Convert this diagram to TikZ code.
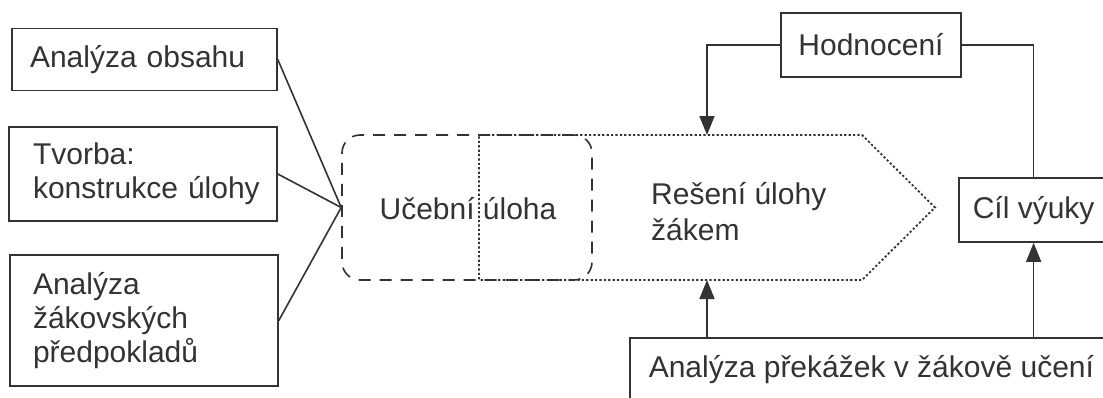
\documentclass[tikz,border=0pt]{standalone}
\usepackage{fontspec}
\setmainfont{Liberation Sans}
\usetikzlibrary{arrows.meta}
\definecolor{ink}{HTML}{333333}
\begin{document}
\begin{tikzpicture}[x=1pt,y=-1pt,
  font=\fontsize{30}{34}\selectfont,
  box/.style={draw=ink, line width=1.6pt, text=ink, inner sep=0pt, align=left},
  lbl/.style={text=ink, inner sep=0pt, align=left},
  ln/.style={draw=ink, line width=1.6pt},
  arr/.style={ln, -{Triangle[length=19pt,width=15pt]}},
  dashbox/.style={draw=ink, line width=1.6pt, dash pattern=on 12pt off 9pt, rounded corners=18pt},
  dotbox/.style={draw=ink, line width=1.8pt, dash pattern=on 2.2pt off 2.2pt}
]
\useasboundingbox[fill=white] (0,0) rectangle (1103,397);
\clip (0,0) rectangle (1103,397);

% left boxes
\node[box, minimum width=265pt, minimum height=62pt, text width=229pt] (b1) at (144.5,59.5) {Analýza obsahu};
\node[box, minimum width=268pt, minimum height=94pt, text width=220pt] (b2) at (143,174) {Tvorba:\\konstrukce~úlohy};
\node[box, minimum width=268pt, minimum height=131pt, text width=222pt] (b3) at (144,320.5) {Analýza\\žákovských\\předpokladů};

% dashed rounded box (ucebni uloha)
\node[dashbox, minimum width=250pt, minimum height=145pt, inner sep=0pt] (ul) at (467,207.5) {};
\node[lbl, anchor=base] (uct) at (468,219) {Učební úloha};

% dotted pentagon (reseni)
\coordinate (p1) at (479,135);
\coordinate (p2) at (862,135);
\coordinate (p3) at (935,207.5);
\coordinate (p4) at (862,280);
\coordinate (p5) at (479,280);
\draw[dotbox] (p1) -- (p2) -- (p3) -- (p4) -- (p5) -- cycle;
\node[lbl, anchor=west, font=\fontsize{30}{36}\selectfont] (res) at (651,212) {Rešení úlohy\\žákem};
\coordinate (ptop) at (707,135);
\coordinate (pbot) at (707,280);

% connectors from left boxes
\draw[ln] (b1.east) -- (ul.west);
\draw[ln] (b2.east) -- (ul.west);
\draw[ln] (b3.east) -- (ul.west);

% right side
\node[box, minimum width=180pt, minimum height=64pt, align=center] (hod) at (871,45) {Hodnocení};
\node[box, minimum height=64pt, inner xsep=14pt, text height=22pt, text depth=6pt, anchor=west] (cil) at (958,210) {Cíl výuky};
\node[box, minimum height=64pt, inner xsep=19pt, text height=22pt, text depth=6pt, anchor=north west] (bot) at (629,337) {Analýza překážek v žákově učení};

\draw[arr] (hod.west) -| (ptop);
\draw[ln] (hod.east) -| (cil.north);
\draw[arr] (bot.north -| pbot) -- (pbot);
\draw[arr] (bot.north -| cil.south) -- (cil.south);
\end{tikzpicture}
\end{document}
